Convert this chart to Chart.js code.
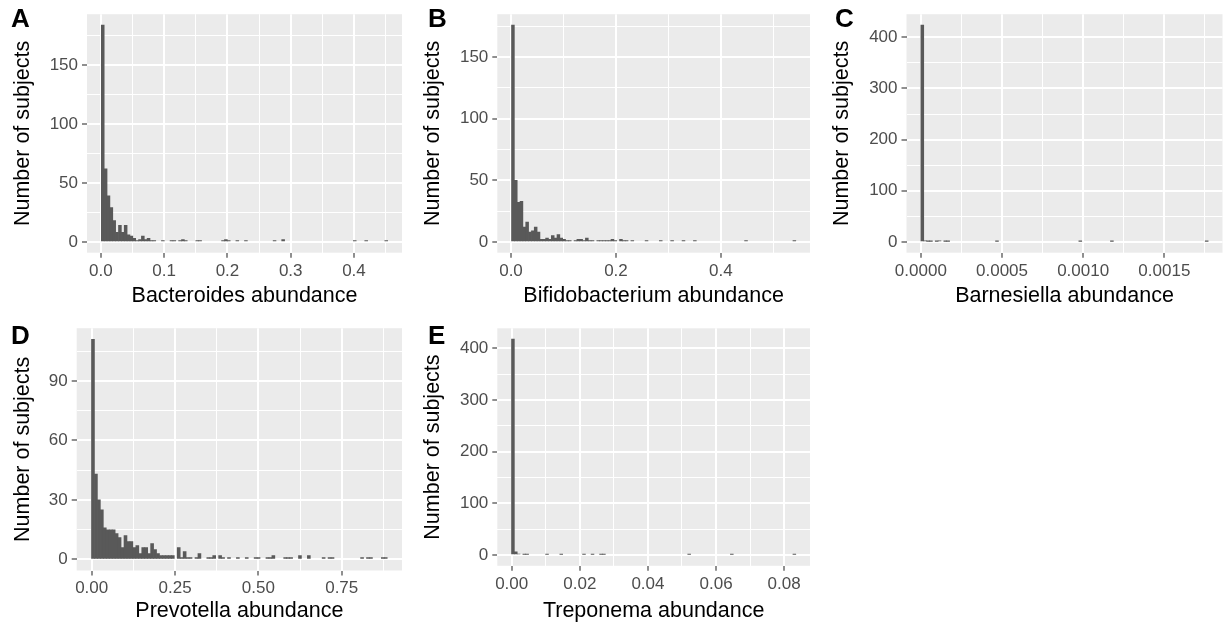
<!DOCTYPE html>
<html><head><meta charset="utf-8">
<script src="https://cdn.jsdelivr.net/npm/chart.js@4"></script>
<style>
html,body{margin:0;padding:0;background:#fff;}
body{width:1226px;height:625px;position:relative;overflow:hidden;font-family:'Liberation Sans',Arial,sans-serif;}
.tag{position:absolute;font-weight:bold;font-size:26px;line-height:26px;color:#000;}
</style></head><body>
<script>
// ---------- data ----------
const yTitle = 'Number of subjects';
const panelTags = ['A', 'B', 'C', 'D', 'E'];
const xTitles = ['Bacteroides abundance', 'Bifidobacterium abundance', 'Barnesiella abundance', 'Prevotella abundance', 'Treponema abundance'];

// data range (min, max) of each variable; 100 bins span it
const bacteroidesRange = [0.0029, 0.451];
const bifidobacteriumRange = [0.0037, 0.540];
const barnesiellaRange = [0.000009, 0.001761];
const prevotellaRange = [0.0038, 0.882];
const treponemaRange = [0.00036, 0.0830];

const bacteroidesCounts = [
 184,62,39,29,18,8,14,8,14,6,
 5,3,1,2,5,2,3,1,1,0,
 0,1,0,0,1,1,0,1,2,1,
 0,0,0,1,1,0,0,0,0,0,
 0,0,1,2,1,0,0,1,0,0,
 1,0,0,0,0,0,0,0,0,0,
 1,0,0,2,0,0,0,0,0,0,
 0,0,0,0,0,0,0,0,0,0,
 0,0,0,0,0,0,0,0,1,0,
 0,0,1,0,0,0,0,0,0,1];
const bifidobacteriumCounts = [
 176,50,32,33,12,16,8,9,12,8,
 2,2,3,2,5,3,6,3,2,1,
 1,0,1,2,2,1,3,1,1,0,
 1,1,1,1,1,2,1,0,2,1,
 1,0,1,0,0,0,0,1,0,0,
 0,0,1,0,0,0,1,0,0,0,
 1,0,0,0,1,0,0,0,0,0,
 0,0,0,0,0,0,0,0,0,0,
 0,0,1,0,0,0,0,0,0,0,
 0,0,0,0,0,0,0,0,0,1];
const barnesiellaCounts = [
 424,2,1,1,0,1,2,0,1,1,
 0,0,0,0,0,0,0,0,0,0,
 0,0,0,0,0,0,1,0,0,0,
 0,0,0,0,0,0,0,0,0,0,
 0,0,0,0,0,0,0,0,0,0,
 0,0,0,0,0,1,0,0,0,0,
 0,0,0,0,0,0,1,0,0,0,
 0,0,0,0,0,0,0,0,0,0,
 0,0,0,0,0,0,0,0,0,0,
 0,0,0,0,0,0,0,0,0,1];
const prevotellaCounts = [
 111,43,30,25,16,15,15,15,13,11,
 6,12,9,9,6,7,3,6,6,3,
 8,5,3,2,2,2,2,2,0,6,
 1,4,1,1,0,1,3,0,0,1,
 1,2,0,2,1,0,1,0,0,1,
 0,0,1,0,0,1,1,0,0,1,
 1,2,0,0,0,1,1,1,0,0,
 2,0,0,2,0,0,0,0,1,0,
 1,1,0,0,0,0,0,0,0,0,
 0,1,0,1,1,0,0,0,1,1];
const treponemaCounts = [
 418,6,2,0,1,1,0,0,0,0,
 0,0,1,0,0,0,0,1,0,0,
 0,0,0,0,0,1,0,0,1,0,
 0,1,1,0,0,0,0,0,0,0,
 0,0,0,0,0,0,0,0,0,0,
 0,0,0,0,0,0,0,0,0,0,
 0,0,1,0,0,0,0,0,0,0,
 0,0,0,0,0,0,0,1,0,0,
 0,0,0,0,0,0,0,0,0,0,
 0,0,0,0,0,0,0,0,0,1];

const bacteroidesXTicks = [0, 0.1, 0.2, 0.3, 0.4];
const bacteroidesXLabels = ['0.0', '0.1', '0.2', '0.3', '0.4'];
const bifidobacteriumXTicks = [0, 0.2, 0.4];
const bifidobacteriumXLabels = ['0.0', '0.2', '0.4'];
const barnesiellaXTicks = [0, 0.0005, 0.001, 0.0015];
const barnesiellaXLabels = ['0.0000', '0.0005', '0.0010', '0.0015'];
const prevotellaXTicks = [0, 0.25, 0.5, 0.75];
const prevotellaXLabels = ['0.00', '0.25', '0.50', '0.75'];
const treponemaXTicks = [0, 0.02, 0.04, 0.06, 0.08];
const treponemaXLabels = ['0.00', '0.02', '0.04', '0.06', '0.08'];

const bacteroidesYTicks = [0, 50, 100, 150];
const bifidobacteriumYTicks = [0, 50, 100, 150];
const barnesiellaYTicks = [0, 100, 200, 300, 400];
const prevotellaYTicks = [0, 30, 60, 90];
const treponemaYTicks = [0, 100, 200, 300, 400];

// ---------- layout (pixels) ----------
const layouts = [
 {left:0,   top:0,   width:408, height:312, plotLeft:87,    plotTop:10.5,  plotRight:402,    plotBottom:252.7, yTitleX:23,  xTitleY:296.5, tagX:11,  tagY:5},
 {left:408, top:0,   width:408, height:312, plotLeft:497.3, plotTop:10.5,  plotRight:810,    plotBottom:252.7, yTitleX:433, xTitleY:296.5, tagX:428, tagY:5},
 {left:816, top:0,   width:410, height:312, plotLeft:906.5, plotTop:10.5,  plotRight:1222.5, plotBottom:252.7, yTitleX:842, xTitleY:296.5, tagX:835, tagY:5},
 {left:0,   top:312, width:408, height:313, plotLeft:76.7,  plotTop:328.2, plotRight:402,    plotBottom:570.5, yTitleX:23,  xTitleY:611, tagX:11,  tagY:322},
 {left:408, top:312, width:408, height:313, plotLeft:497.3, plotTop:328.3, plotRight:810,    plotBottom:565.8, yTitleX:433, xTitleY:611, tagX:428, tagY:322}
];

const panels = [
 {range:bacteroidesRange, counts:bacteroidesCounts, xTicks:bacteroidesXTicks, xLabels:bacteroidesXLabels, yTicks:bacteroidesYTicks},
 {range:bifidobacteriumRange, counts:bifidobacteriumCounts, xTicks:bifidobacteriumXTicks, xLabels:bifidobacteriumXLabels, yTicks:bifidobacteriumYTicks},
 {range:barnesiellaRange, counts:barnesiellaCounts, xTicks:barnesiellaXTicks, xLabels:barnesiellaXLabels, yTicks:barnesiellaYTicks},
 {range:prevotellaRange, counts:prevotellaCounts, xTicks:prevotellaXTicks, xLabels:prevotellaXLabels, yTicks:prevotellaYTicks},
 {range:treponemaRange, counts:treponemaCounts, xTicks:treponemaXTicks, xLabels:treponemaXLabels, yTicks:treponemaYTicks}
];

Chart.defaults.font.family = "'Liberation Sans', Arial, Helvetica, sans-serif";

const bgPlugin = {
  id: 'panelBg',
  beforeDraw(chart) {
    const {ctx, chartArea: a} = chart;
    ctx.save();
    ctx.fillStyle = '#EBEBEB';
    ctx.fillRect(a.left, a.top, a.right - a.left, a.bottom - a.top);
    ctx.restore();
  }
};

function withMinor(major, labels, lo, hi) {
  const step = major[1] - major[0];
  const out = major.map((v, i) => ({value: v, label: labels[i], major: true}));
  out.push({value: major[0] - step / 2, label: '', major: false});
  major.forEach(v => out.push({value: v + step / 2, label: '', major: false}));
  return out.filter(t => t.value >= lo && t.value <= hi).sort((a, b) => a.value - b.value);
}

function makePanel(p, L, idx) {
  const canvas = document.createElement('canvas');
  canvas.width = L.width; canvas.height = L.height;
  canvas.style.cssText = `position:absolute;left:${L.left}px;top:${L.top}px;width:${L.width}px;height:${L.height}px;`;
  document.body.appendChild(canvas);

  const tag = document.createElement('div');
  tag.className = 'tag';
  tag.textContent = panelTags[idx];
  tag.style.left = L.tagX + 'px';
  tag.style.top = L.tagY + 'px';
  document.body.appendChild(tag);

  const n = p.counts.length;
  const w = (p.range[1] - p.range[0]) / (n - 1);
  const lo = p.range[0] - w / 2, hi = p.range[1] + w / 2;
  const ex = 0.05 * (hi - lo);
  const xMin = lo - ex, xMax = hi + ex;
  const peak = Math.max(...p.counts);
  const yMin = -0.05 * peak, yMax = 1.05 * peak;
  const data = p.counts.map((c, k) => ({x: p.range[0] + k * w, y: c}));
  const xAll = withMinor(p.xTicks, p.xLabels, xMin, xMax);
  const yAll = withMinor(p.yTicks, p.yTicks.map(String), yMin, yMax);

  const titleSize = 21.5, tickSize = 17;
  const gridOpts = (all) => ({
    offset: false,
    color: '#FFFFFF',
    lineWidth: c => (all[c.index] && all[c.index].major) ? 2 : 1,
    tickColor: c => (all[c.index] && all[c.index].major) ? '#333333' : 'rgba(0,0,0,0)',
    tickLength: 5,
    tickWidth: 1.1,
    drawTicks: true
  });

  new Chart(canvas, {
    type: 'bar',
    data: {datasets: [{
      data: data,
      backgroundColor: c => (c.raw && c.raw.y > 0) ? '#595959' : 'rgba(0,0,0,0)',
      borderWidth: 0, barPercentage: 1, categoryPercentage: 1
    }]},
    plugins: [bgPlugin],
    options: {
      responsive: false, animation: false, devicePixelRatio: 1,
      layout: {padding: {top: L.plotTop - L.top, right: L.left + L.width - L.plotRight, left: 0, bottom: 0}},
      plugins: {legend: {display: false}, tooltip: {enabled: false}},
      scales: {
        x: {
          type: 'linear', min: xMin, max: xMax, bounds: 'data', offset: false,
          afterBuildTicks: s => { s.ticks = xAll.map(t => ({value: t.value})); },
          afterFit: s => { s.height = L.top + L.height - L.plotBottom; },
          grid: gridOpts(xAll),
          border: {display: false},
          ticks: {autoSkip: false, maxRotation: 0, minRotation: 0, padding: 3, color: '#4D4D4D', font: {size: tickSize},
                  callback: (v, i) => xAll[i] ? xAll[i].label : ''},
          title: {display: true, text: xTitles[idx], color: '#000000', font: {size: titleSize, lineHeight: 1},
                  padding: {top: 0, bottom: (L.top + L.height) - L.xTitleY - titleSize / 2}}
        },
        y: {
          type: 'linear', min: yMin, max: yMax, bounds: 'data',
          afterBuildTicks: s => { s.ticks = yAll.map(t => ({value: t.value})); },
          afterFit: s => { s.width = L.plotLeft - L.left; },
          grid: gridOpts(yAll),
          border: {display: false},
          ticks: {autoSkip: false, padding: 4, color: '#4D4D4D', font: {size: tickSize},
                  callback: (v, i) => yAll[i] ? yAll[i].label : ''},
          title: {display: true, text: yTitle, color: '#000000', font: {size: titleSize, lineHeight: 1},
                  padding: {top: (L.yTitleX - L.left) - titleSize / 2, bottom: 0}}
        }
      }
    }
  });
}

panels.forEach((p, i) => makePanel(p, layouts[i], i));
</script>
</body></html>
